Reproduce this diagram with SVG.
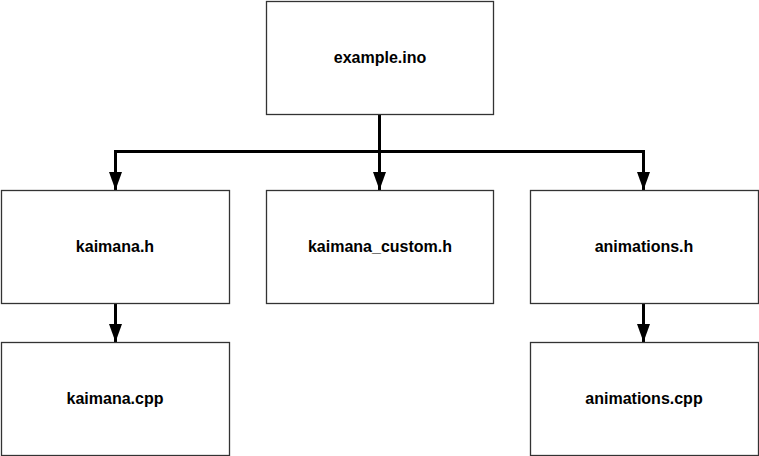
<svg xmlns="http://www.w3.org/2000/svg" width="759" height="456" viewBox="0 0 759 456">
<style>
.box{fill:#fff;stroke:#333;stroke-width:1.3}
.lbl{font-family:"Liberation Sans",Arial,sans-serif;font-weight:bold;font-size:16px;fill:#000;text-anchor:middle}
.conn{fill:none;stroke:#000;stroke-width:3}
</style>
<defs>
<marker id="ah" markerUnits="userSpaceOnUse" markerWidth="19" markerHeight="14" refX="18" refY="6.5" orient="auto" viewBox="0 0 19 14">
<path d="M0,0 L18,6.5 L0,13 Z" fill="#000"/>
</marker>
</defs>
<g id="connectors">
<path class="conn" d="M379.5,114 V151.5"/>
<path class="conn" d="M115.5,151.5 H643.5"/>
<path class="conn" d="M115.5,150 V190" marker-end="url(#ah)"/>
<path class="conn" d="M379.5,150 V190" marker-end="url(#ah)"/>
<path class="conn" d="M643.5,150 V190" marker-end="url(#ah)"/>
<path class="conn" d="M115.5,303 V342" marker-end="url(#ah)"/>
<path class="conn" d="M643.5,303 V342" marker-end="url(#ah)"/>
</g>
<g id="example_ino"><rect class="box" x="266.5" y="1.5" width="227" height="113"/><text class="lbl" x="380" y="63">example.ino</text></g>
<g id="kaimana_h"><rect class="box" x="1.5" y="190.5" width="228" height="113"/><text class="lbl" x="115" y="252">kaimana.h</text></g>
<g id="kaimana_custom_h"><rect class="box" x="266.5" y="190.5" width="227" height="113"/><text class="lbl" x="380" y="252">kaimana_custom.h</text></g>
<g id="animations_h"><rect class="box" x="530.5" y="190.5" width="228" height="113"/><text class="lbl" x="644" y="252">animations.h</text></g>
<g id="kaimana_cpp"><rect class="box" x="1.5" y="342.5" width="228" height="113"/><text class="lbl" x="115" y="404">kaimana.cpp</text></g>
<g id="animations_cpp"><rect class="box" x="530.5" y="342.5" width="228" height="113"/><text class="lbl" x="644" y="404">animations.cpp</text></g>
</svg>
